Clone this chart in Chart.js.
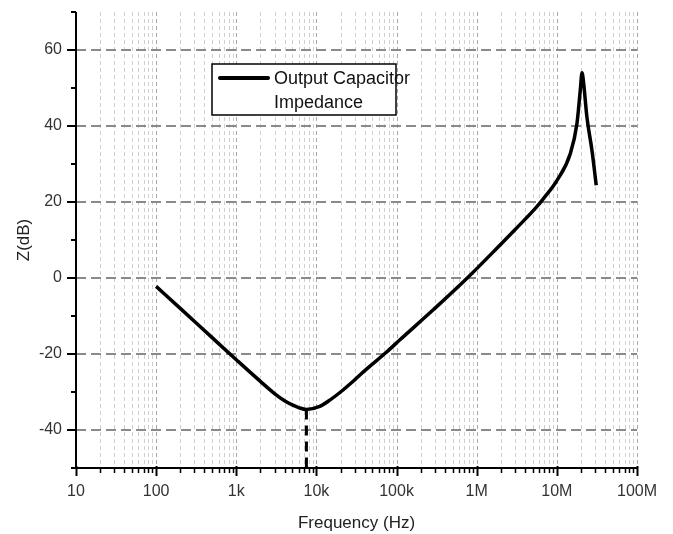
<!DOCTYPE html>
<html>
<head>
<meta charset="utf-8">
<script src="https://cdn.jsdelivr.net/npm/chart.js@4"></script>
<style>
   html, body { margin: 0; padding: 0; background: #fff; }
   #wrap { width: 673px; height: 534px; }
</style>
</head>
<body>
<div id="wrap"><canvas id="c" width="673" height="534"></canvas></div>
<script>
// frequency (Hz) and impedance (dB)
const freqs = [100, 200, 500, 1000, 2000, 3000, 4000, 5000, 6000, 7500, 11000, 15000, 20000, 30000,
   42500, 74000, 111000, 289000, 780000, 2000000, 3000000, 5600000, 7000000, 10000000, 14700000,
   17800000, 19600000, 20600000, 21600000, 23700000, 27400000, 31000000];
const zdb = [-2.2, -8.0, -15.7, -21.5, -27.2, -30.4, -32.3, -33.4, -34.1, -34.6, -33.8, -32.0, -30.0, -26.8,
   -23.9, -19.6, -16.2, -8.3, 0.2, 8.9, 12.7, 18.7, 21.2, 25.6, 32.7,
   40.6, 49.4, 54.0, 51.2, 42.4, 33.6, 24.4];

// dashed marker at the minimum
const markFreq = [7500, 7500];
const markDb = [-34.6, -50];

const xDecades = [10, 100, 1e3, 1e4, 1e5, 1e6, 1e7, 1e8];
const xLabels = ["10", "100", "1k", "10k", "100k", "1M", "10M", "100M"];
const yMajor = [-40, -20, 0, 20, 40, 60];
const yMinor = [-50, -30, -10, 10, 30, 50, 70];

const legendLines = ["Output Capacitor", "Impedance"];

const toPts = (xs, ys) => xs.map((x, i) => ({ x: x, y: ys[i] }));

// all log ticks 1..9 per decade
const xAll = [];
xDecades.forEach((d, i) => {
   if (i === xDecades.length - 1) { xAll.push(d); return; }
   for (let k = 1; k < 10; k++) xAll.push(d * k);
});

const gridPlugin = {
   id: "gridAxes",
   beforeDatasetsDraw(chart) {
      const ctx = chart.ctx;
      const xs = chart.scales.x, ys = chart.scales.y;
      const a = chart.chartArea;
      ctx.save();
      // vertical dashed grid
      xAll.forEach(v => {
         const px = Math.round(xs.getPixelForValue(v)) + 0.5;
         const major = xDecades.includes(v);
         ctx.strokeStyle = major ? "#a8a8a8" : "#cfcfcf";
         ctx.lineWidth = 1;
         ctx.setLineDash([4, 3]);
         ctx.beginPath();
         ctx.moveTo(px, a.top);
         ctx.lineTo(px, a.bottom);
         ctx.stroke();
      });
      // horizontal dashed grid
      yMajor.forEach(v => {
         const py = Math.round(ys.getPixelForValue(v));
         ctx.strokeStyle = "#8a8a8a";
         ctx.lineWidth = 2;
         ctx.setLineDash([10, 5]);
         ctx.beginPath();
         ctx.moveTo(a.left, py);
         ctx.lineTo(a.right, py);
         ctx.stroke();
      });
      ctx.restore();
   },
   afterDatasetsDraw(chart) {
      const ctx = chart.ctx;
      const xs = chart.scales.x, ys = chart.scales.y;
      const a = chart.chartArea;
      ctx.save();
      ctx.setLineDash([]);
      ctx.strokeStyle = "#000";
      // axis lines
      ctx.lineWidth = 2;
      ctx.beginPath();
      ctx.moveTo(a.left, a.top);
      ctx.lineTo(a.left, a.bottom);
      ctx.lineTo(a.right, a.bottom);
      ctx.stroke();
      // y ticks
      ctx.lineWidth = 2;
      yMajor.forEach(v => {
         const py = Math.round(ys.getPixelForValue(v));
         ctx.beginPath(); ctx.moveTo(a.left - 9, py); ctx.lineTo(a.left, py); ctx.stroke();
      });
      yMinor.forEach(v => {
         const py = Math.round(ys.getPixelForValue(v));
         ctx.beginPath(); ctx.moveTo(a.left - 5, py); ctx.lineTo(a.left, py); ctx.stroke();
      });
      // x ticks
      xAll.forEach(v => {
         const px = Math.round(xs.getPixelForValue(v)) + 0.5;
         const major = xDecades.includes(v);
         ctx.lineWidth = major ? 2 : 1.5;
         ctx.beginPath();
         ctx.moveTo(px, a.bottom - (major ? 2 : 0));
         ctx.lineTo(px, a.bottom + (major ? 8 : 5));
         ctx.stroke();
      });
      // legend
      const lx = 212, ly = 64, lw = 184, lh = 51;
      ctx.fillStyle = "#fff";
      ctx.fillRect(lx, ly, lw, lh);
      ctx.lineWidth = 1.5;
      ctx.strokeRect(lx, ly, lw, lh);
      ctx.lineWidth = 4;
      ctx.lineCap = "round";
      ctx.beginPath(); ctx.moveTo(220, 78); ctx.lineTo(268, 78); ctx.stroke();
      ctx.fillStyle = "#111";
      ctx.font = "18px 'Liberation Sans', Arial, sans-serif";
      ctx.textBaseline = "middle";
      ctx.textAlign = "left";
      ctx.fillText(legendLines[0], 274, 79);
      ctx.fillText(legendLines[1], 274, 103);
      ctx.restore();
   }
};

new Chart(document.getElementById("c"), {
   type: "scatter",
   data: {
      datasets: [
         {
            data: toPts(freqs, zdb),
            showLine: true,
            borderColor: "#000",
            borderWidth: 3.5,
            pointRadius: 0,
            cubicInterpolationMode: "monotone",
         },
         {
            data: toPts(markFreq, markDb),
            showLine: true,
            borderColor: "#000",
            borderWidth: 3,
            borderDash: [10, 6],
            pointRadius: 0,
         },
      ],
   },
   options: {
      responsive: false,
      animation: false,
      layout: { padding: { left: 0, top: 2, right: 36, bottom: 0 } },
      plugins: {
         legend: { display: false },
         tooltip: { enabled: false },
      },
      scales: {
         x: {
            type: "logarithmic",
            min: 10,
            max: 1e8,
            afterFit: s => { s.height = 66; },
            afterBuildTicks: s => { s.ticks = xDecades.map(v => ({ value: v, major: true })); },
            ticks: {
               autoSkip: false,
               maxRotation: 0,
               padding: 6,
               color: "#333",
               font: { family: "'Liberation Sans', Arial, sans-serif", size: 16 },
               callback: (v) => {
                  const i = xDecades.indexOf(v);
                  return i >= 0 ? xLabels[i] : "";
               },
            },
            grid: { display: false },
            border: { display: false },
            title: {
               display: true,
               text: "Frequency (Hz)",
               color: "#222",
               font: { family: "'Liberation Sans', Arial, sans-serif", size: 17 },
               padding: { top: 8, bottom: 0 },
            },
         },
         y: {
            min: -50,
            max: 70,
            afterFit: s => { s.width = 76; },
            afterBuildTicks: s => { s.ticks = yMajor.map(v => ({ value: v })); },
            ticks: {
               padding: 4,
               color: "#333",
               font: { family: "'Liberation Sans', Arial, sans-serif", size: 16, lineHeight: 1 },
            },
            grid: { display: false, tickLength: 10 },
            border: { display: false },
            title: {
               display: true,
               text: "Z(dB)",
               color: "#222",
               font: { family: "'Liberation Sans', Arial, sans-serif", size: 17 },
               padding: { top: 14, bottom: 4 },
            },
         },
      },
   },
   plugins: [gridPlugin],
});
</script>
</body>
</html>
